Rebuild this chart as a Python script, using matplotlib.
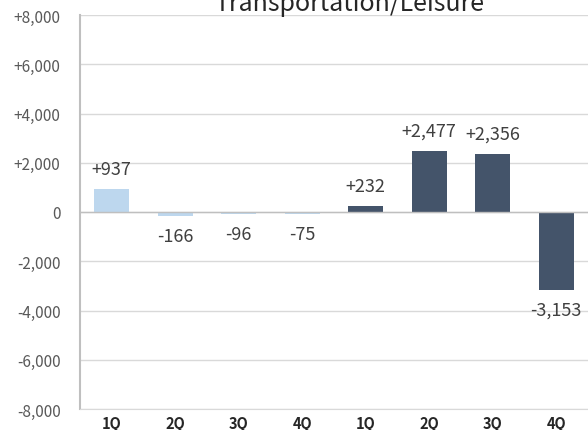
import matplotlib
matplotlib.use("Agg")
import matplotlib.pyplot as plt

plt.rcParams['font.family'] = ['Noto Sans CJK JP', 'DejaVu Sans']

# data
quarters = ["1Q", "2Q", "3Q", "4Q", "1Q", "2Q", "3Q", "4Q"]
values = [937, -166, -96, -75, 232, 2477, 2356, -3153]
colors = ["#BDD7EE"] * 4 + ["#44546A"] * 4
yticks = [-8000, -6000, -4000, -2000, 0, 2000, 4000, 6000, 8000]
ytick_labels = ["-8,000", "-6,000", "-4,000", "-2,000", "0",
                "+2,000", "+4,000", "+6,000", "+8,000"]

fig = plt.figure(figsize=(5.88, 4.31), dpi=100)
ax = fig.add_axes([80 / 588, 21 / 431, 508 / 588, 394 / 431])

x = list(range(len(values)))
ax.bar(x, values, width=0.55, color=colors, zorder=3)

ax.set_xlim(-0.5, len(values) - 0.5)
ax.set_ylim(-8000, 8000)
ax.set_yticks(yticks)
ax.set_yticklabels(ytick_labels, color="#595959", fontsize=11)
ax.set_xticks(x)
ax.set_xticklabels(quarters, fontsize=10.5, color="#262626", fontweight="bold")
ax.tick_params(length=0)
ax.tick_params(axis="y", pad=14)
ax.tick_params(axis="x", pad=4)

ax.grid(axis="y", color="#D9D9D9", linewidth=1, zorder=0)
ax.axhline(0, color="#BFBFBF", linewidth=1, zorder=4)
for s in ["top", "right"]:
    ax.spines[s].set_visible(False)
ax.spines["left"].set_color("#BFBFBF")
ax.spines["left"].set_linewidth(1.5)
ax.spines["bottom"].set_color("#D9D9D9")

for xi, v in zip(x, values):
    label = f"{v:+,}"
    if v >= 0:
        ax.annotate(label, (xi, v), xytext=(0, 8), textcoords="offset points",
                    ha="center", va="bottom", fontsize=13, color="#404040")
    else:
        ax.annotate(label, (xi, v), xytext=(0, -8), textcoords="offset points",
                    ha="center", va="top", fontsize=13, color="#404040")

# title sits partly above the top edge, as in the source image
fig.text(349 / 588, 1 - 11 / 431, "Transportation/Leisure", ha="center",
         va="baseline", fontsize=18, color="#262626")

fig.savefig("out.png", dpi=100)
